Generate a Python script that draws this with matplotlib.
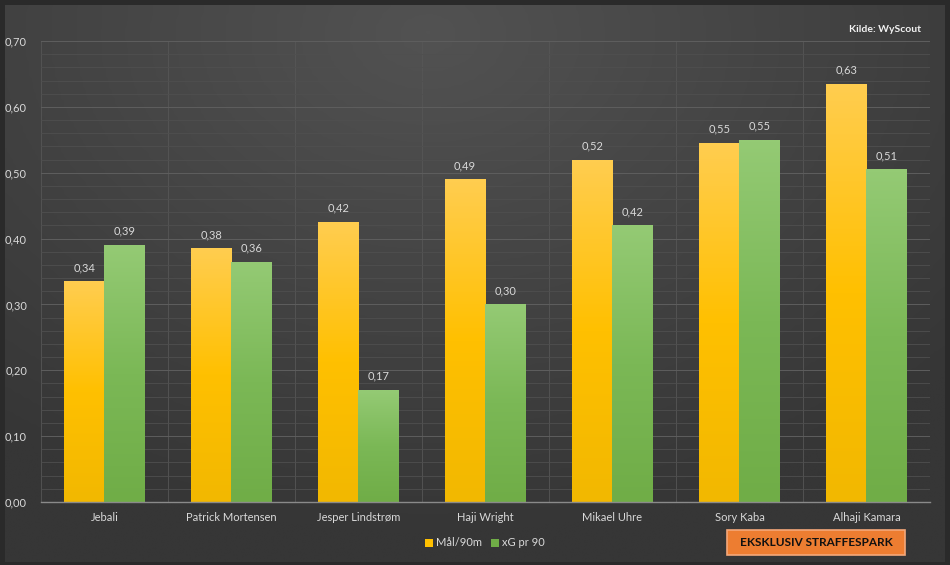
import numpy as np
import matplotlib
matplotlib.use("Agg")
import matplotlib.pyplot as plt
from matplotlib.colors import LinearSegmentedColormap
from matplotlib.patches import Rectangle
from matplotlib.ticker import MultipleLocator, FuncFormatter

players = ["Jebali", "Patrick Mortensen", "Jesper Lindstrøm", "Haji Wright",
           "Mikael Uhre", "Sory Kaba", "Alhaji Kamara"]
maal_90 = [0.335, 0.385, 0.425, 0.49, 0.52, 0.545, 0.635]
xg_90 = [0.39, 0.365, 0.17, 0.30, 0.42, 0.55, 0.505]
series_names = ["Mål/90m", "xG pr 90"]
label_maal = ["0,34", "0,38", "0,42", "0,49", "0,52", "0,55", "0,63"]
label_xg = ["0,39", "0,36", "0,17", "0,30", "0,42", "0,55", "0,51"]

plt.rcParams['font.family'] = ['Lato', 'DejaVu Sans']

W, H = 950, 565
fig = plt.figure(figsize=(W / 100, H / 100), dpi=100)
fig.patch.set_facecolor("#2a2a2a")

# background panel with radial gradient
bg = fig.add_axes([0, 0, 1, 1], zorder=-10)
bg.set_axis_off()
yy, xx = np.mgrid[0:1:200j, 0:1:300j]
r = np.sqrt(((xx - 0.45) / 0.75) ** 2 + ((yy - 0.05) / 0.9) ** 2)
r = np.clip(r, 0, 1)
cm_bg = LinearSegmentedColormap.from_list("bg", ["#525252", "#444444", "#363636"])
bg.imshow(r, cmap=cm_bg, extent=[5, 945, 562, 5], aspect="auto", interpolation="bilinear")
bg.set_xlim(0, W)
bg.set_ylim(H, 0)

ax = fig.add_axes([41 / W, 1 - 502 / H, (930 - 41) / W, (502 - 41) / H])
ax.set_facecolor("none")

x = np.arange(len(players))
bw = 0.32
cm_or = LinearSegmentedColormap.from_list("or", ["#f2b800", "#ffc000", "#ffcd4f"])
cm_gr = LinearSegmentedColormap.from_list("gr", ["#70ad47", "#7bb856", "#94ca74"])

bars1 = ax.bar(x - bw / 2, maal_90, bw, color="#ffc000", zorder=3, label=series_names[0])
bars2 = ax.bar(x + bw / 2, xg_90, bw, color="#70ad47", zorder=3, label=series_names[1])

grad = np.linspace(0, 1, 100).reshape(-1, 1)
for bars, cmap in ((bars1, cm_or), (bars2, cm_gr)):
    for b in bars:
        x0, w_, h = b.get_x(), b.get_width(), b.get_height()
        im = ax.imshow(grad, cmap=cmap, extent=[x0, x0 + w_, 0, h], origin="lower",
                       aspect="auto", zorder=3.5, interpolation="bilinear")
        im.set_clip_path(b)

for bars, labs in ((bars1, label_maal), (bars2, label_xg)):
    for b, t in zip(bars, labs):
        ax.annotate(t, (b.get_x() + b.get_width() / 2, b.get_height()),
                    xytext=(0, 6), textcoords="offset points", ha="center", va="bottom",
                    color="#d9d9d9", fontsize=8)

ax.set_xlim(-0.5, 6.5)
ax.set_ylim(0, 0.70)
ax.yaxis.set_major_locator(MultipleLocator(0.1))
ax.yaxis.set_minor_locator(MultipleLocator(0.02))
ax.yaxis.set_major_formatter(FuncFormatter(lambda v, p: f"{v:.2f}".replace(".", ",")))
ax.set_xticks(x)
ax.set_xticklabels(players)
ax.set_xticks(np.arange(-0.5, 6.6, 0.5), minor=True)
ax.grid(which="major", axis="y", color="#5e5e5e", lw=0.7, zorder=0)
ax.grid(which="minor", axis="y", color="#4f4f4f", lw=0.6, zorder=0)
ax.grid(which="minor", axis="x", color="#565656", lw=0.6, zorder=0)
ax.tick_params(axis="both", which="both", length=0, colors="#d9d9d9", labelsize=8)
ax.tick_params(axis="x", pad=7)
ax.tick_params(axis="y", pad=10)
for s in ("top", "right", "left"):
    ax.spines[s].set_visible(False)
ax.spines["bottom"].set_color("#8a8a8a")
ax.spines["bottom"].set_linewidth(1.0)
ax.spines["bottom"].set_zorder(5)

leg = fig.legend(handles=[bars1, bars2], labels=series_names, loc="center",
                 bbox_to_anchor=(485 / W, 1 - 543 / H), ncol=2, frameon=False,
                 fontsize=8, labelcolor="#d9d9d9", handlelength=0.7, handleheight=0.7,
                 handletextpad=0.3, columnspacing=0.8)

fig.text(921 / W, 1 - 30 / H, "Kilde: WyScout", ha="right", va="center",
         color="#f2f2f2", fontsize=7.5, fontweight="bold")

box = Rectangle((727, 530), 178, 25, transform=bg.transData, facecolor="#ed7d31",
                edgecolor="#f4a87a", lw=1.2, zorder=5)
bg.add_patch(box)
bg.text(816, 543, "EKSKLUSIV STRAFFESPARK", ha="center", va="center",
        color="#111111", fontsize=8.5, fontweight="bold", zorder=6)

fig.savefig("out.png", dpi=100, facecolor=fig.get_facecolor())
